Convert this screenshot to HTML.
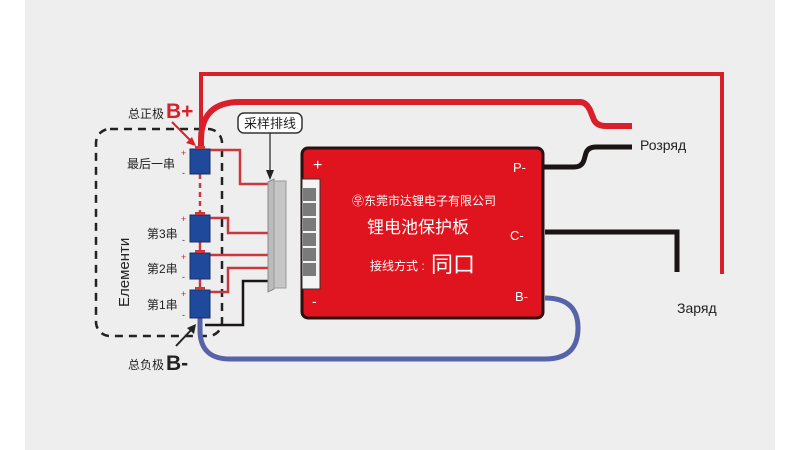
<!DOCTYPE html>
<html><head><meta charset="utf-8"><style>
html,body{margin:0;padding:0;background:#ffffff;}
svg{display:block}
text{font-family:"Liberation Sans","Noto Sans CJK SC",sans-serif;}
</style></head><body>
<svg width="800" height="450" viewBox="0 0 800 450">
<rect width="800" height="450" fill="#ffffff"/>
<rect x="25" y="0" width="750" height="450" fill="#eeeeee"/>
<!-- dashed box -->
<rect x="96" y="129" width="126" height="207" rx="14" fill="none" stroke="#222" stroke-width="2.5" stroke-dasharray="8,6"/>
<!-- top red loop -->
<path d="M201 148 V74 H722 V274" fill="none" stroke="#d9202a" stroke-width="4"/>
<!-- second red wire -->
<path d="M201 148 V140 Q201 102 240 102 H580 Q586 102 590 110 L594 120 Q597 126 606 126 H632" fill="none" stroke="#d9202a" stroke-width="6"/>
<!-- black P- -->
<path d="M543 167 H574 Q582 167 584 160 L586 153 Q588 147 596 147 H632" fill="none" stroke="#1b1414" stroke-width="5"/>
<!-- C- -->
<path d="M545 232 H677 V272" fill="none" stroke="#1b1414" stroke-width="5"/>
<!-- blue B- -->
<path d="M200 318 V330 Q200 359 230 359 H545 Q578 359 578 328 Q578 298 545 298" fill="none" stroke="#5763a8" stroke-width="5"/>
<!-- balance wires -->
<g fill="none" stroke="#c9383d" stroke-width="2.5">
<path d="M210 150 H240 V184 H268"/>
<path d="M207 218 H228 V233 H268"/>
<path d="M207 255 H268"/>
<path d="M207 292 H228 V268 H268"/>
</g>
<path d="M200 174 V215" stroke="#c9383d" stroke-width="2.5" stroke-dasharray="5,4"/>
<path d="M200 241 V253 M200 278 V290" stroke="#c9383d" stroke-width="2.5"/>
<path d="M205 325 H243 V281 H268" fill="none" stroke="#1b1414" stroke-width="2.5"/>
<!-- batteries -->
<g fill="#1f4a9c" stroke="#162e66" stroke-width="1">
<rect x="190" y="149" width="20" height="25"/>
<rect x="190" y="215" width="20" height="27"/>
<rect x="190" y="253" width="20" height="26"/>
<rect x="190" y="290" width="20" height="28"/>
</g>
<g fill="#c9383d"><rect x="195" y="146" width="10" height="3"/><rect x="195" y="212" width="10" height="3"/><rect x="195" y="250" width="10" height="3"/><rect x="195" y="287" width="10" height="3"/></g>
<g font-size="9" fill="#d9202a"><text x="181" y="156">+</text><text x="181" y="222">+</text><text x="181" y="260">+</text><text x="181" y="297">+</text></g>
<g font-size="9" fill="#333"><text x="182" y="176">-</text><text x="182" y="243">-</text><text x="182" y="280">-</text><text x="182" y="318">-</text></g>
<g font-size="12" fill="#222"><text x="127" y="168">最后一串</text><text x="147" y="238">第3串</text><text x="147" y="273">第2串</text><text x="147" y="309">第1串</text></g>
<text transform="translate(129,307) rotate(-90)" font-size="15" fill="#222">Елементи</text>
<text x="128" y="118" font-size="12" fill="#222">总正极</text>
<text x="166" y="118" font-size="21" font-weight="bold" fill="#d9202a">B+</text>
<text x="128" y="369" font-size="12" fill="#222">总负极</text>
<text x="166" y="370" font-size="21" font-weight="bold" fill="#222">B-</text>
<path d="M172 122 L194 144" stroke="#d9202a" stroke-width="2"/><path d="M196 146 L186 143 L192 137Z" fill="#d9202a"/>
<path d="M176 346 L193 328" stroke="#222" stroke-width="2"/><path d="M196 324 L194 334 L187 328Z" fill="#222"/>
<!-- label 采样排线 -->
<rect x="238" y="113" width="64" height="20" rx="6" fill="#fff" stroke="#333" stroke-width="1.5"/>
<text x="244" y="128" font-size="13" fill="#222">采样排线</text>
<path d="M270 133 V173" stroke="#222" stroke-width="1.2"/><path d="M266 170 L274 170 L270 180Z" fill="#222"/>
<!-- plug -->
<path d="M268 182 L274 179 V289 L268 292Z" fill="#bbb" stroke="#888"/>
<rect x="274" y="181" width="12" height="107" fill="#c6c6c6" stroke="#999"/>
<!-- board -->
<rect x="302" y="148" width="241" height="170" rx="6" fill="#e0141e" stroke="#2a1010" stroke-width="3"/>
<rect x="302" y="179" width="18" height="110" fill="#f4f4f4" stroke="#333" stroke-width="1"/>
<g fill="#7a7a7a"><rect x="303" y="188" width="13" height="13"/><rect x="303" y="203" width="13" height="13"/><rect x="303" y="218" width="13" height="13"/><rect x="303" y="233" width="13" height="13"/><rect x="303" y="248" width="13" height="13"/><rect x="303" y="263" width="13" height="13"/></g>
<g fill="#fff" font-size="13"><text x="313" y="170" font-size="16">+</text><text x="312" y="306" font-size="14">-</text>
<text x="513" y="172">P-</text><text x="510" y="240">C-</text><text x="515" y="301">B-</text></g>
<text x="352" y="205" font-size="12" fill="#fff">㉾东莞市达锂电子有限公司</text>
<text x="367" y="233" font-size="17" fill="#fff">锂电池保护板</text>
<text x="370" y="270" font-size="12" fill="#fff">接线方式 :</text>
<text x="431" y="272" font-size="22" fill="#fff">同口</text>
<text x="640" y="150" font-size="14" fill="#222">Розряд</text>
<text x="677" y="313" font-size="14" fill="#222">Заряд</text>
</svg>
</body></html>
